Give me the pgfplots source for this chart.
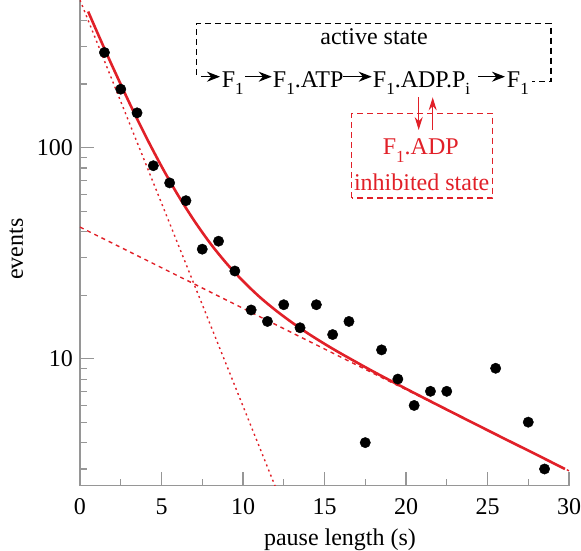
\documentclass[border=0pt]{standalone}
\usepackage{fontspec}
\setmainfont{Liberation Serif}
\usepackage{pgfplots}
\pgfplotsset{compat=1.18}
\usetikzlibrary{arrows.meta}
\definecolor{fitred}{RGB}{225,32,40}
\definecolor{axgray}{RGB}{150,150,150}
\newcommand\sub[1]{\raisebox{-7.5bp}{\fontsize{17bp}{17bp}\selectfont #1}}
\begin{document}
\begin{tikzpicture}[font=\fontsize{24bp}{28bp}\selectfont]
\begin{axis}[
  at={(0,0)}, anchor=south west,
  scale only axis, width=489bp, height=485.7bp,
  xmin=0, xmax=30, ymin=2.5, ymax=500,
  ymode=log,
  axis x line=bottom, axis y line=left,
  axis line style={-, axgray, line width=1.3bp},
  tick style={axgray, line width=1.1bp},
  tick align=inside,
  major tick length=14bp, minor tick length=7bp,
  xtick={0,5,10,15,20,25,30}, xticklabels={0,5,10,15,20,25,30},
  minor xtick={2.5,7.5,12.5,17.5,22.5,27.5},
  ytick={10,100}, yticklabels={10,100},
  minor ytick={3,4,5,6,7,8,9,20,30,40,50,60,70,80,90,200,300,400},
  /pgf/number format/assume math mode=true,
  tick label style={font=\fontsize{24bp}{28bp}\selectfont, black},
  xticklabel style={anchor=north, inner sep=0pt, yshift=-12.6bp},
  yticklabel style={anchor=east, inner sep=0pt, xshift=-7bp},
  xlabel={pause length (s)},
  ylabel={events},
  xlabel style={at={(axis description cs:0.5317,-0.1221)}, anchor=base, font=\fontsize{24bp}{28bp}\selectfont},
  ylabel style={at={(axis description cs:-0.1166,0.4873)}, anchor=base, font=\fontsize{24bp}{28bp}\selectfont},
]
% fast component
\addplot[fitred, line width=1.4bp, dash pattern=on 2bp off 3.5bp] coordinates {(0,500) (12.3,2.15)};
% slow component
\addplot[fitred, line width=1.4bp, dash pattern=on 4bp off 4bp] coordinates {(0,42.0) (30,2.94)};
% total fit
\addplot[fitred, line width=2.6bp, smooth] coordinates {
(0.5,440.8) (1,359.5) (1.5,294.1) (2,241.4) (3,164.6) (4,114.4) (5,81.5)
(6,59.7) (7,45.1) (8,35.1) (9,28.2) (10,23.3) (11,19.66) (12,16.95)
(13,14.84) (14,13.14) (15,11.75) (16,10.58) (18,8.68) (20,7.20)
(22,6.0) (24,5.01) (26,4.19) (28,3.51) (29.75,3.00)};
% data
\addplot[only marks, mark=*, mark size=5.2bp, black] coordinates {
(1.5,282) (2.5,189) (3.5,146) (4.5,82) (5.5,68) (6.5,56) (7.5,33) (8.5,36)
(9.5,26) (10.5,17) (11.5,15) (12.5,18) (13.5,14) (14.5,18) (15.5,13)
(16.5,15) (17.5,4) (18.5,11) (19.5,8) (20.5,6) (21.5,7) (22.5,7)
(25.5,9) (27.5,5) (28.5,3)};
\end{axis}
% scheme
\draw[dash pattern=on 6bp off 4bp, line width=1.2bp] (116.7bp,411bp) -- (116.7bp,462.4bp) -- (471bp,462.4bp) -- (471bp,404bp) -- (451.7bp,404bp);
\draw[line width=1.2bp, -{Stealth[length=13bp,width=10bp]}] (121bp,409bp) -- (140bp,409bp);
\node[anchor=base, inner sep=0pt] at (294bp,440.7bp) {active state};
\node[anchor=base west, inner sep=0pt] at (141.7bp,398.4bp) {F\sub{1}};
\draw[line width=1.2bp, -{Stealth[length=13bp,width=10bp]}] (165bp,409bp) -- (191.7bp,409bp);
\node[anchor=base west, inner sep=0pt] at (192.7bp,398.4bp) {F\sub{1}.ATP};
\draw[line width=1.2bp, -{Stealth[length=13bp,width=10bp]}] (263bp,409bp) -- (291.7bp,409bp);
\node[anchor=base west, inner sep=0pt] at (292.7bp,398.4bp) {F\sub{1}.ADP.P\sub{i}};
\draw[line width=1.2bp, -{Stealth[length=13bp,width=10bp]}] (398bp,409bp) -- (425bp,409bp);
\node[anchor=base west, inner sep=0pt] at (426.7bp,398.4bp) {F\sub{1}};
% inhibited
\draw[fitred, line width=1.2bp, -{Stealth[length=13bp,width=8bp]}] (338.7bp,388.4bp) -- (338.7bp,355.7bp);
\draw[fitred, line width=1.2bp, -{Stealth[length=13bp,width=8bp]}] (352.7bp,355.7bp) -- (352.7bp,388.4bp);
\draw[fitred, dash pattern=on 6bp off 4bp, line width=1.2bp] (271.7bp,287.7bp) rectangle (412.7bp,372.4bp);
\node[fitred, anchor=base, inner sep=0pt] at (340.8bp,330.7bp) {F\sub{1}.ADP};
\node[fitred, anchor=base, inner sep=0pt] at (341.7bp,295bp) {inhibited state};
\pgfresetboundingbox
\path[use as bounding box] (-80bp,-65.3bp) rectangle (501bp,485.7bp);
\end{tikzpicture}
\end{document}
